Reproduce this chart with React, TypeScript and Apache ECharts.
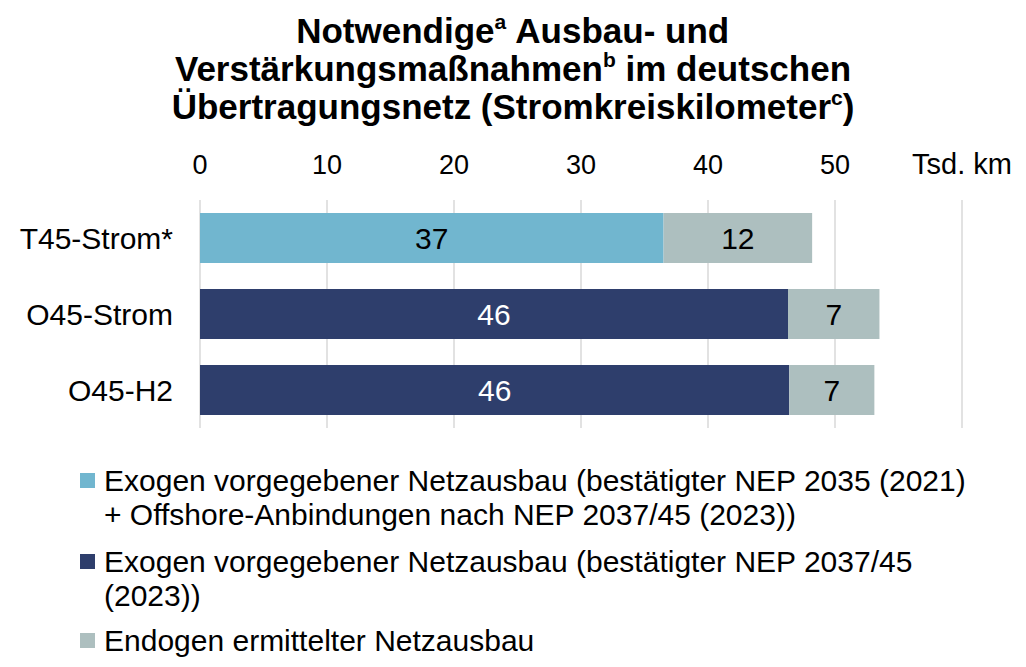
import React, { useEffect, useRef } from "react";
import * as echarts from "echarts";

const categories = ["T45-Strom*", "O45-Strom", "O45-H2"];
const seriesNames = [
  "Exogen vorgegebener Netzausbau (bestätigter NEP 2035 (2021)\n+ Offshore-Anbindungen nach NEP 2037/45 (2023))",
  "Exogen vorgegebener Netzausbau (bestätigter NEP 2037/45\n(2023))",
  "Endogen ermittelter Netzausbau",
];
const exoT45 = [36.5, null, null];
const exoO45 = [null, 46.3, 46.4];
const endogen = [11.7, 7.2, 6.7];
const axisMin = 0;
const axisMax = 60;
const axisInterval = 10;
const unitLabel = "Tsd. km";

const FONT = "Liberation Sans, Arial, sans-serif";
const COLORS = ["#71b6cf", "#2e3e6c", "#adbfbf"];
const LABEL_COLORS = ["#000", "#fff", "#000"];
const LEGEND_TOPS = [463, 544, 623];

export default function App() {
  const ref = useRef<HTMLDivElement>(null);
  useEffect(() => {
    document.body.style.margin = "0";
    const chart = echarts.init(ref.current!, null, { renderer: "svg" });
    const datas = [exoT45, exoO45, endogen];
    const legendGraphics: any[] = [];
    seriesNames.forEach((n, i) => {
      legendGraphics.push({
        type: "rect",
        left: 80,
        top: LEGEND_TOPS[i] + 10,
        shape: { width: 15, height: 15 },
        style: { fill: COLORS[i] },
        silent: true,
      });
      legendGraphics.push({
        type: "text",
        left: 104,
        top: LEGEND_TOPS[i],
        style: {
          text: n,
          fontSize: 30,
          lineHeight: 34,
          fontFamily: FONT,
          fill: "#000",
        },
        silent: true,
      });
    });
    chart.setOption({
      animation: false,
      textStyle: { fontFamily: FONT },
      title: {
        left: "center",
        top: 11,
        padding: 0,
        text:
          "Notwendige{sup|a} Ausbau- und\nVerstärkungsmaßnahmen{sup|b} im deutschen\nÜbertragungsnetz (Stromkreiskilometer{sup|c})",
        textStyle: {
          fontFamily: FONT,
          fontSize: 35,
          fontWeight: "bold",
          color: "#000",
          lineHeight: 38,
          rich: {
            sup: {
              fontFamily: FONT,
              fontSize: 21,
              fontWeight: "bold",
              color: "#000",
              verticalAlign: "top",
              lineHeight: 33,
            },
          },
        },
      },
      grid: { left: 200, right: 64, top: 200, height: 228, containLabel: false },
      xAxis: {
        type: "value",
        position: "top",
        min: axisMin,
        max: axisMax,
        interval: axisInterval,
        axisLine: { show: false },
        axisTick: { show: false },
        splitLine: { show: true, lineStyle: { color: "#d9d9d9", width: 1.5 } },
        axisLabel: {
          margin: 22,
          fontSize: 27,
          color: "#000",
          fontFamily: FONT,
          formatter: (v: number) => (v === axisMax ? "{u|" + unitLabel + "}" : String(v)),
          rich: { u: { fontSize: 29, fontFamily: FONT, color: "#000" } },
        },
      },
      yAxis: {
        type: "category",
        inverse: true,
        data: categories,
        axisLine: { show: false },
        axisTick: { show: false },
        axisLabel: { margin: 27, fontSize: 30, color: "#000", fontFamily: FONT },
      },
      graphic: legendGraphics,
      series: seriesNames.map((name, i) => ({
        name,
        type: "bar",
        stack: "total",
        barWidth: 50,
        data: datas[i],
        itemStyle: { color: COLORS[i] },
        label: {
          show: true,
          position: "inside",
          fontSize: 30,
          fontFamily: FONT,
          color: LABEL_COLORS[i],
          formatter: (p: any) => String(Math.round(p.value)),
        },
      })),
    });
    return () => chart.dispose();
  }, []);
  return <div ref={ref} style={{ width: 1026, height: 667 }} />;
}
